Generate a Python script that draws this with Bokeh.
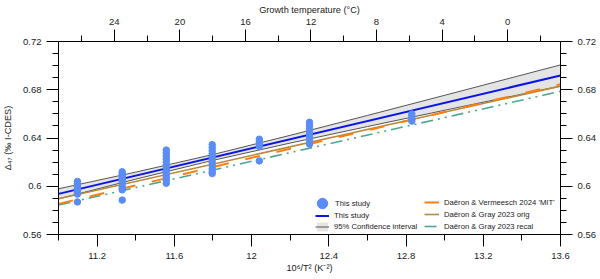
from bokeh.plotting import figure
from bokeh.models import (Range1d, LinearAxis, FixedTicker, Legend, LegendItem)
from bokeh.embed import file_html
from bokeh.resources import INLINE

# ---------------- data ----------------
group_x = [11.098, 11.33, 11.558, 11.796, 12.04, 12.30, 12.83]
group_y = [
    [0.604, 0.6025, 0.601, 0.5995, 0.598, 0.5965, 0.595, 0.5935, 0.587],
    [0.612, 0.6105, 0.609, 0.6075, 0.606, 0.6045, 0.603, 0.600, 0.598, 0.597, 0.5885],
    [0.630, 0.6275, 0.625, 0.6225, 0.620, 0.6175, 0.615, 0.6125, 0.610, 0.6075, 0.605, 0.6025],
    [0.6345, 0.632, 0.6295, 0.627, 0.6245, 0.622, 0.6195, 0.617, 0.6145, 0.612, 0.6105],
    [0.639, 0.637, 0.635, 0.633, 0.621],
    [0.653, 0.6505, 0.648, 0.6455, 0.643, 0.6405, 0.638, 0.635],
    [0.660, 0.658, 0.656, 0.654],
]
line_x = [11.0, 13.6]
this_study_fit = [0.5937, 0.6918]
mit_2024 = [0.5854, 0.6845]
gray_orig = [0.5896, 0.6830]
gray_recal = [0.5844, 0.6787]
ci_x = [11.0, 11.4, 11.8, 12.2, 12.6, 13.0, 13.6]
ci_upper = [0.5979, 0.6117, 0.6263, 0.6422, 0.6587, 0.6754, 0.7006]
ci_lower = [0.5895, 0.6059, 0.6215, 0.6358, 0.6495, 0.6630, 0.6830]

y_ticks = [0.56, 0.60, 0.64, 0.68, 0.72]
y_tick_labels = ["0.56", "0.6", "0.64", "0.68", "0.72"]
y_minor = [0.56 + 0.01 * i for i in range(17)]
x_ticks = [11.2, 11.6, 12.0, 12.4, 12.8, 13.2, 13.6]
x_tick_labels = ["11.2", "11.6", "12", "12.4", "12.8", "13.2", "13.6"]
x_minor = [11.0 + 0.2 * i for i in range(14)]
t_ticks = [24, 20, 16, 12, 8, 4, 0]
t_tick_labels = ["24", "20", "16", "12", "8", "4", "0"]
t_minor = [26, 22, 18, 14, 10, 6, 2, -2]
t_range = (27.41, -3.23)

# ---------------- figure ----------------
FONT = "Liberation Sans"
p = figure(width=600, height=279, output_backend="svg", toolbar_location=None,
           x_range=Range1d(11.0, 13.6), y_range=Range1d(0.56, 0.72),
           min_border_left=57, min_border_right=40, min_border_top=41, min_border_bottom=45)
p.outline_line_color = None
p.xgrid.visible = False
p.ygrid.visible = False
p.background_fill_color = "white"
p.border_fill_color = "white"

p.extra_x_ranges = {"temp": Range1d(*t_range)}

def style(ax):
    ax.axis_line_color = "black"
    ax.axis_line_width = 1
    ax.major_tick_line_color = "black"
    ax.minor_tick_line_color = "black"
    ax.major_tick_in = 0
    ax.minor_tick_in = 0
    ax.major_tick_out = 12
    ax.minor_tick_out = 6
    ax.major_label_text_font = FONT
    ax.major_label_text_font_size = "9.5px"
    ax.major_label_text_color = "#222222"
    ax.axis_label_text_font = FONT
    ax.axis_label_text_font_size = "9.2px"
    ax.axis_label_text_font_style = "normal"
    ax.axis_label_text_color = "#222222"

xb = p.xaxis[0]
xb.ticker = FixedTicker(ticks=x_ticks, minor_ticks=x_minor)
xb.major_label_overrides = dict(zip(x_ticks, x_tick_labels))
xb.axis_label = "10⁶/T² (K⁻²)"
style(xb)
xb.major_label_standoff = 6
xb.axis_label_standoff = 1

yl = p.yaxis[0]
yl.ticker = FixedTicker(ticks=y_ticks, minor_ticks=y_minor)
yl.major_label_overrides = dict(zip(y_ticks, y_tick_labels))
yl.axis_label = "Δ₄₇ (‰ I-CDES)"
style(yl)
yl.major_label_standoff = 5
yl.axis_label_standoff = 7

yr = LinearAxis(ticker=FixedTicker(ticks=y_ticks, minor_ticks=y_minor))
yr.major_label_overrides = dict(zip(y_ticks, y_tick_labels))
style(yr)
yr.major_label_standoff = 5
p.add_layout(yr, "right")

xt = LinearAxis(x_range_name="temp", ticker=FixedTicker(ticks=t_ticks, minor_ticks=t_minor))
xt.major_label_overrides = dict(zip(t_ticks, t_tick_labels))
xt.axis_label = "Growth temperature (°C)"
style(xt)
xt.major_label_standoff = 5
xt.axis_label_standoff = 1
p.add_layout(xt, "above")

# ---------------- glyphs ----------------
band = p.varea(x=ci_x, y1=ci_lower, y2=ci_upper, fill_color="#e4e4e4", fill_alpha=1)
up = p.line(ci_x, ci_upper, line_color="#555555", line_width=1)
lo = p.line(ci_x, ci_lower, line_color="#555555", line_width=1)

l_orig = p.line(line_x, gray_orig, line_color="#b8893a", line_width=1.6)
l_recal = p.line(line_x, gray_recal, line_color="#4fa592", line_width=1.6, line_dash="12 5 2 5 2 5")
l_mit = p.line(line_x, mit_2024, line_color="#ff7f0e", line_width=2, line_dash="15 17")
l_fit = p.line(line_x, this_study_fit, line_color="#0a14e6", line_width=2)

sx, sy = [], []
for gx, ys in zip(group_x, group_y):
    for v in ys:
        sx.append(gx)
        sy.append(v)
pts = p.scatter(sx, sy, size=6.5, fill_color="#5b8cf5", line_color="#5b8cf5")

# ---------------- legends ----------------
def mk_legend(items, loc, gw, gh, lh, standoff):
    lg = Legend(items=items, location=loc, glyph_width=gw, glyph_height=gh, label_height=lh,
                label_standoff=standoff, spacing=0, padding=0, margin=0,
                border_line_color=None, background_fill_alpha=0,
                label_text_font=FONT, label_text_font_size="7.7px", label_text_color="#222222")
    p.add_layout(lg, "center")
    return lg

mk_legend([LegendItem(label="This study", renderers=[pts])], (251, 18), 26, 26, 26, 0)
mk_legend([LegendItem(label="This study", renderers=[l_fit]),
           LegendItem(label="95% Confidence interval", renderers=[band, up])],
          (257, 2), 14, 11, 11, 5)
mk_legend([LegendItem(label="Daëron & Vermeesch 2024 'MIT'", renderers=[l_mit]),
           LegendItem(label="Daëron & Gray 2023 orig", renderers=[l_orig]),
           LegendItem(label="Daëron & Gray 2023 recal", renderers=[l_recal])],
          (366, 2), 15, 12, 12, 5)

open("out.html", "w").write(file_html(p, INLINE))
